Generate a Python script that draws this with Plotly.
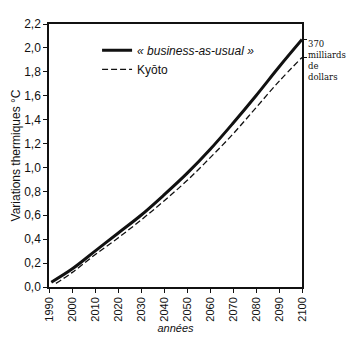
import plotly.graph_objects as go

years_bau = [1991, 2000, 2010, 2020, 2030, 2040, 2050, 2060, 2070, 2080, 2090, 2100]
bau = [0.04, 0.15, 0.30, 0.45, 0.60, 0.77, 0.95, 1.15, 1.37, 1.60, 1.84, 2.07]
years_kyoto = [1993, 2000, 2010, 2020, 2030, 2040, 2050, 2060, 2070, 2080, 2090, 2100]
kyoto = [0.03, 0.12, 0.27, 0.41, 0.56, 0.72, 0.89, 1.08, 1.28, 1.50, 1.72, 1.92]

x_ticks = list(range(1990, 2101, 10))
y_ticks = [round(0.2 * i, 1) for i in range(12)]

FONT = "Liberation Sans, Arial, sans-serif"

fig = go.Figure()
fig.add_trace(go.Scatter(x=years_bau, y=bau, mode="lines", name="<i>« business-as-usual »</i>",
                         line=dict(color="#111", width=3, shape="spline", smoothing=1.0)))
fig.add_trace(go.Scatter(x=years_kyoto, y=kyoto, mode="lines", name="Kyōto",
                         line=dict(color="#111", width=1.3, dash="6px,3px", shape="spline", smoothing=1.0)))
# invisible trace on right axis to show end ticks
fig.add_trace(go.Scatter(x=[years_bau[-1]], y=[bau[-1]], yaxis="y2", mode="markers",
                         marker=dict(opacity=0), showlegend=False, hoverinfo="skip"))

fig.update_layout(
    width=350, height=351,
    margin=dict(l=49, r=48, t=24, b=64),
    paper_bgcolor="white", plot_bgcolor="white",
    separators=", ",
    font=dict(family=FONT, color="#111", size=11),
    showlegend=True,
    legend=dict(x=0.19, y=0.955, xanchor="left", yanchor="top", bgcolor="rgba(0,0,0,0)",
                font=dict(size=12, family=FONT), itemwidth=30, tracegroupgap=0),
    xaxis=dict(range=[1990, 2100], tickvals=x_ticks, tickangle=-90, showgrid=False, zeroline=False,
               showline=True, linecolor="#111", linewidth=1.5, mirror=True,
               ticks="outside", ticklen=4, tickcolor="#111", tickfont=dict(size=11),
               title=dict(text="<i>années</i>", font=dict(size=11), standoff=0)),
    yaxis=dict(range=[0, 2.2], tickvals=y_ticks, tickformat=".1f", showgrid=False, zeroline=False,
               showline=True, linecolor="#111", linewidth=1.5, mirror=True,
               ticks="outside", ticklen=4, tickcolor="#111", tickfont=dict(size=12),
               title=dict(text="Variations thermiques °C", font=dict(size=12), standoff=1)),
    yaxis2=dict(range=[0, 2.2], overlaying="y", side="right", tickvals=[bau[-1], kyoto[-1]],
                showticklabels=False, ticks="outside", ticklen=4, tickcolor="#111",
                showgrid=False, zeroline=False, showline=False),
    annotations=[dict(x=1.0, xref="paper", y=bau[-1], yref="y", xanchor="left", yanchor="top",
                      xshift=4, yshift=3, align="left", showarrow=False,
                      text="370<br>milliards<br>de<br>dollars",
                      font=dict(size=8.5, family="DejaVu Serif, serif", color="#111"))],
)

fig.write_html("out.html")
